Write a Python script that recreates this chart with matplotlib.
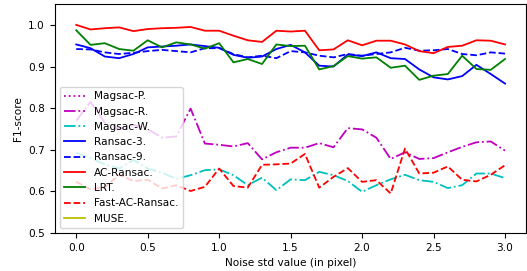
import numpy as np
import matplotlib
matplotlib.use("Agg")
import matplotlib.pyplot as plt

plt.rcParams['font.size'] = 7.6

noise = [round(0.1 * i, 1) for i in range(31)]

magsac_p = []
magsac_r = [0.770, 0.815, 0.765, 0.750, 0.760, 0.750, 0.729, 0.732, 0.799, 0.715, 0.712,
            0.708, 0.716, 0.677, 0.694, 0.705, 0.705, 0.716, 0.706, 0.752, 0.749,
            0.729, 0.678, 0.694, 0.678, 0.680, 0.694, 0.707, 0.718, 0.720, 0.698]
magsac_w = [0.693, 0.680, 0.665, 0.655, 0.676, 0.655, 0.645, 0.630, 0.639, 0.651, 0.653,
            0.639, 0.615, 0.633, 0.603, 0.629, 0.627, 0.647, 0.639, 0.625, 0.599,
            0.615, 0.629, 0.640, 0.627, 0.623, 0.608, 0.615, 0.643, 0.643, 0.632]
ransac_3 = [0.953, 0.944, 0.924, 0.920, 0.930, 0.946, 0.948, 0.950, 0.953, 0.949, 0.945,
            0.928, 0.921, 0.924, 0.942, 0.952, 0.934, 0.902, 0.900, 0.929, 0.925,
            0.934, 0.920, 0.918, 0.893, 0.874, 0.869, 0.877, 0.904, 0.882, 0.859]
ransac_9 = [0.942, 0.941, 0.934, 0.930, 0.933, 0.937, 0.940, 0.937, 0.934, 0.944, 0.944,
            0.930, 0.922, 0.926, 0.920, 0.937, 0.934, 0.926, 0.922, 0.930, 0.926,
            0.930, 0.934, 0.945, 0.938, 0.939, 0.942, 0.930, 0.927, 0.934, 0.931]
ac_ransac = [1.000, 0.989, 0.992, 0.994, 0.985, 0.990, 0.992, 0.993, 0.995, 0.986, 0.986,
             0.974, 0.963, 0.959, 0.986, 0.984, 0.986, 0.939, 0.941, 0.963, 0.951,
             0.962, 0.962, 0.953, 0.937, 0.932, 0.947, 0.950, 0.963, 0.962, 0.953]
lrt = [0.987, 0.952, 0.956, 0.942, 0.938, 0.963, 0.946, 0.958, 0.953, 0.943, 0.956,
       0.910, 0.918, 0.906, 0.953, 0.949, 0.950, 0.893, 0.901, 0.925, 0.919,
       0.922, 0.897, 0.902, 0.868, 0.878, 0.882, 0.926, 0.894, 0.892, 0.918]
fast_ac = [0.623, 0.605, 0.610, 0.640, 0.625, 0.628, 0.607, 0.615, 0.601, 0.611, 0.655,
           0.613, 0.609, 0.664, 0.665, 0.667, 0.690, 0.609, 0.635, 0.656, 0.623,
           0.627, 0.595, 0.703, 0.643, 0.645, 0.660, 0.628, 0.624, 0.640, 0.663]
muse = []

fig, ax = plt.subplots(figsize=(5.27, 2.71), dpi=100)
lw = 1.3
ax.plot(noise[:len(magsac_p)], magsac_p, 'm:', lw=lw, label='Magsac-P.')
ax.plot(noise, magsac_r, 'm-.', lw=lw, label='Magsac-R.')
ax.plot(noise, magsac_w, 'c-.', lw=lw, label='Magsac-W.')
ax.plot(noise, ransac_3, 'b-', lw=lw, label='Ransac-3.')
ax.plot(noise, ransac_9, 'b--', lw=lw, label='Ransac-9.')
ax.plot(noise, ac_ransac, 'r-', lw=lw, label='AC-Ransac.')
ax.plot(noise, lrt, 'g-', lw=lw, label='LRT.')
ax.plot(noise, fast_ac, 'r--', lw=lw, label='Fast-AC-Ransac.')
ax.plot(noise[:len(muse)], muse, 'y-', lw=lw, label='MUSE.')

ax.set_ylim(0.5, 1.05)
ax.set_xlabel('Noise std value (in pixel)')
ax.set_ylabel('F1-score')
ax.legend(loc='lower left')

fig.subplots_adjust(left=0.104, right=0.999, top=0.985, bottom=0.14)
fig.savefig('out.png')
